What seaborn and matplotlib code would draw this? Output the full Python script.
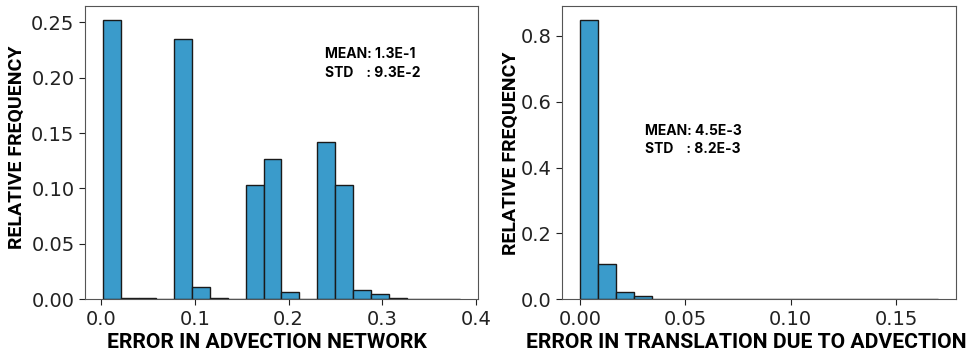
import numpy as np
import pandas as pd
import matplotlib
matplotlib.use("Agg")
import matplotlib.pyplot as plt
import seaborn as sns

sns.set_style("ticks")
plt.rcParams['font.family'] = ['DejaVu Sans']

# ---- data (relative frequency per bin) ----
adv_range = (0.002, 0.383)
adv_freq = [0.252, 0.0008, 0.0015, 0.0, 0.235, 0.011, 0.0015, 0.0,
            0.103, 0.127, 0.007, 0.0005, 0.142, 0.103, 0.0085, 0.005,
            0.0015, 0.0005, 0.0005, 0.0005]
trans_range = (0.0, 0.17)
trans_freq = [0.848, 0.108, 0.0225, 0.009, 0.001, 0.0008, 0.0008, 0.0008,
              0.0, 0.0, 0.0, 0.0, 0.0, 0.0, 0.0, 0.0012,
              0.0, 0.0, 0.0, 0.0003]
xlabels = ["ERROR IN ADVECTION NETWORK", "ERROR IN TRANSLATION DUE TO ADVECTION"]
ylabel = "RELATIVE FREQUENCY"
stats = [("1.3E-1", "9.3E-2"), ("4.5E-3", "8.2E-3")]

bar_color = "#3a9bcb"

fig = plt.figure(figsize=(9.68, 3.54), dpi=100)
ax1 = fig.add_axes([0.0878, 0.1545, 0.406, 0.8285])
ax2 = fig.add_axes([0.5806, 0.1545, 0.407, 0.8285])

def draw(ax, rng, freq):
    n = len(freq)
    width = (rng[1] - rng[0]) / n
    centers = rng[0] + width * (np.arange(n) + 0.5)
    df = pd.DataFrame({"x": centers, "w": freq})
    sns.histplot(data=df, x="x", weights="w", bins=n, binrange=rng,
                 stat="count", color=bar_color, alpha=1.0,
                 edgecolor="#1a1a1a", linewidth=1.0, ax=ax)

draw(ax1, adv_range, adv_freq)
draw(ax2, trans_range, trans_freq)

xlab_font = dict(family=['Roboto', 'DejaVu Sans'],
                 fontweight='bold', fontsize=15.2, color="black")
ylab_font = dict(family=['Roboto', 'DejaVu Sans'],
                 fontweight='bold', fontsize=14, color="black")
ann_font = dict(family=['Inter', 'DejaVu Sans'], fontweight='bold',
                fontsize=10, color="black")

for ax, xl in zip([ax1, ax2], xlabels):
    ax.set_xlabel(xl, **xlab_font)
    ax.set_ylabel(ylabel, **ylab_font)
    ax.tick_params(labelsize=14, length=4, width=0.8, colors="#222222")
    for sp in ax.spines.values():
        sp.set_visible(True)
        sp.set_color("#555555")
        sp.set_linewidth(0.8)

ax1.set_xticks([0.0, 0.1, 0.2, 0.3, 0.4])
ax1.set_yticks([0.0, 0.05, 0.10, 0.15, 0.20, 0.25])
ax1.yaxis.set_major_formatter(matplotlib.ticker.FormatStrFormatter('%.2f'))
ax2.set_xticks([0.0, 0.05, 0.10, 0.15])
ax2.xaxis.set_major_formatter(matplotlib.ticker.FormatStrFormatter('%.2f'))
ax2.set_yticks([0.0, 0.2, 0.4, 0.6, 0.8])

ax1.xaxis.set_label_coords(0.463, -0.116)
ax2.xaxis.set_label_coords(0.468, -0.116)
ax1.yaxis.set_label_coords(-0.150, 0.518)
ax2.yaxis.set_label_coords(-0.108, 0.499)

ax1.text(0.611, 0.836, f"MEAN: {stats[0][0]}", transform=ax1.transAxes, va='center', **ann_font)
ax1.text(0.611, 0.771, f"STD    : {stats[0][1]}", transform=ax1.transAxes, va='center', **ann_font)
ax2.text(0.211, 0.575, f"MEAN: {stats[1][0]}", transform=ax2.transAxes, va='center', **ann_font)
ax2.text(0.211, 0.513, f"STD    : {stats[1][1]}", transform=ax2.transAxes, va='center', **ann_font)

fig.savefig("out.png", dpi=100)
